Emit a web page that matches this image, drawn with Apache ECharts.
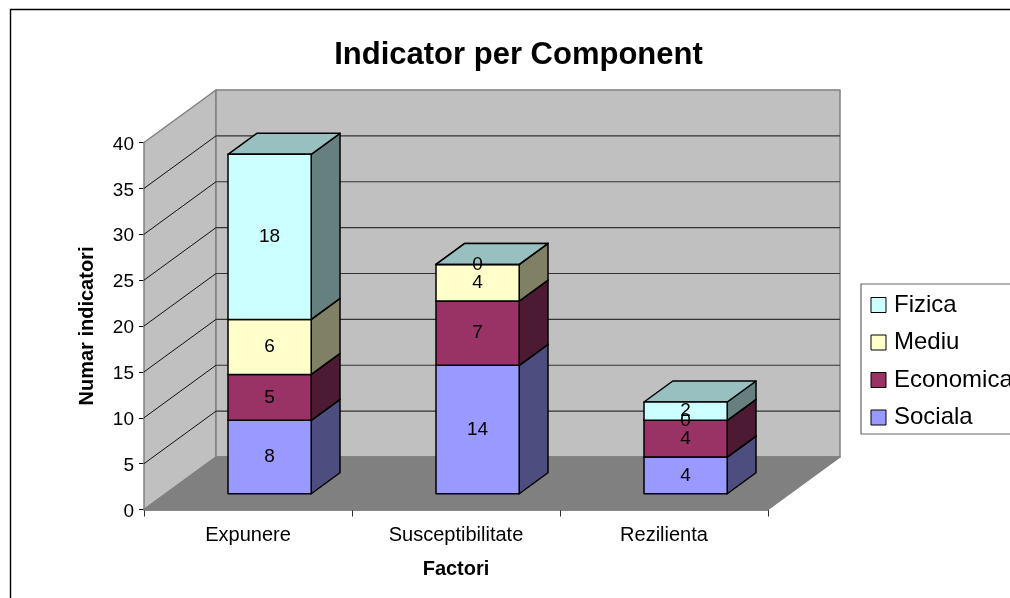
<!DOCTYPE html>
<html>
<head>
<meta charset="utf-8">
<style>html,body{margin:0;padding:0;background:#fff}#chart{width:1010px;height:598px}</style>
<script src="https://cdn.jsdelivr.net/npm/echarts@6/dist/echarts.min.js"></script>
</head>
<body>
<div id="chart"></div>
<script>
// Indicator counts per factor, stacked bottom to top
const categories = ['Expunere', 'Susceptibilitate', 'Rezilienta'];
const sociala = [8, 14, 4];
const economica = [5, 7, 4];
const mediu = [6, 4, 0];
const fizica = [18, 0, 2];
const yTicks = [5, 10, 15, 20, 25, 30, 35];
const legendOrder = ['Fizica', 'Mediu', 'Economica', 'Sociala'];

const FONT = '"Liberation Sans", Arial, sans-serif';
const stacks = [
  { name: 'Sociala', values: sociala, front: '#9999ff', side: '#4d4d80', top: '#7373bf' },
  { name: 'Economica', values: economica, front: '#993366', side: '#4d1a33', top: '#73264d' },
  { name: 'Mediu', values: mediu, front: '#ffffcc', side: '#808066', top: '#bfbf99' },
  { name: 'Fizica', values: fizica, front: '#ccffff', side: '#668080', top: '#99c0c0' }
];

// Oblique projection of the box: full depth of the floor and the slab a bar occupies in it
const DEPTH = [72, -52.5];
const BAR_NEAR = 0.3;
const BAR_FAR = 0.7;
const BAR_WIDTH = 0.4;

const poly = (points, fill, stroke, lineWidth, z2) => ({
  type: 'polygon',
  z2: z2 || 0,
  shape: { points },
  style: { fill, stroke, lineWidth, lineJoin: 'round' }
});
const seg = (a, b, stroke, lineWidth) => ({
  type: 'line',
  shape: { x1: a[0], y1: a[1], x2: b[0], y2: b[1] },
  style: { stroke, lineWidth }
});
const shift = (p, f) => [p[0] + DEPTH[0] * f, p[1] + DEPTH[1] * f];

// Side wall, back wall, floor and their gridlines
function renderBox(params, api) {
  const cs = params.coordSys;
  const x0 = cs.x, x1 = cs.x + cs.width;
  const yAt = v => api.coord([0, v])[1];
  const bl = [x0, yAt(0)], br = [x1, yAt(0)], tl = [x0, yAt(40)];
  const edge = '#808080';
  const children = [
    poly([bl, tl, shift(tl, 1), shift(bl, 1)], '#c0c0c0', edge, 1.5),
    poly([shift(bl, 1), shift(tl, 1), [x1 + DEPTH[0], tl[1] + DEPTH[1]], shift(br, 1)], '#c0c0c0', edge, 1.5),
    poly([bl, br, shift(br, 1), shift(bl, 1)], '#808080', edge, 1.5)
  ];
  yTicks.forEach(v => {
    const a = [x0, yAt(v)], b = shift(a, 1), c = shift([x1, yAt(v)], 1);
    children.push(seg(a, b, '#111', 1));
    children.push(seg(b, c, '#333', 1.2));
  });
  return { type: 'group', children };
}

// One stack segment: front, side and top faces plus its value label
function renderSegment(stackIndex) {
  return function (params, api) {
    const cat = api.value(0), v = api.value(1);
    let base = 0;
    for (let i = 0; i < stackIndex; i++) base += stacks[i].values[cat];
    const s = stacks[stackIndex];
    const band = api.size([1, 0])[0];
    const cx = api.coord([cat, 0])[0];
    const yLow = api.coord([cat, base])[1];
    const yHigh = api.coord([cat, base + v])[1];
    const w = band * BAR_WIDTH;
    const fl = shift([cx - w / 2, yLow], BAR_NEAR);
    const fr = shift([cx + w / 2, yLow], BAR_NEAR);
    const tr = shift([cx + w / 2, yHigh], BAR_NEAR);
    const tlf = shift([cx - w / 2, yHigh], BAR_NEAR);
    const d = BAR_FAR - BAR_NEAR;
    const stroke = '#000', lw = 1.5;
    const layer = stackIndex + 1;
    return {
      type: 'group',
      children: [
        poly([fr, tr, shift(tr, d), shift(fr, d)], s.side, stroke, lw, layer),
        poly([tlf, tr, shift(tr, d), shift(tlf, d)], s.top, stroke, lw, layer),
        poly([fl, fr, tr, tlf], s.front, stroke, lw, layer),
        {
          type: 'text',
          z2: 100,
          style: {
            x: (fl[0] + fr[0]) / 2,
            y: (fl[1] + tlf[1]) / 2,
            text: String(v),
            fill: '#000',
            font: '19px ' + FONT,
            textAlign: 'center',
            textVerticalAlign: 'middle'
          }
        }
      ]
    };
  };
}

const chart = echarts.init(document.getElementById('chart'), null, { renderer: 'canvas' });
chart.setOption({
  animation: false,
  backgroundColor: '#fff',
  title: {
    text: 'Indicator per Component',
    left: 513.5,
    top: 35,
    textAlign: 'center',
    textStyle: { fontFamily: FONT, fontSize: 31, fontWeight: 'bold', color: '#000' }
  },
  graphic: [{
    type: 'rect',
    shape: { x: 10.5, y: 9.5, width: 1200, height: 800 },
    style: { fill: 'none', stroke: '#000', lineWidth: 1.4 },
    silent: true
  }],
  grid: { left: 144, top: 142.5, width: 624, height: 367 },
  legend: {
    left: 861,
    top: 284,
    orient: 'vertical',
    data: legendOrder.map(name => {
      const s = stacks.find(t => t.name === name);
      return { name, icon: 'rect', itemStyle: { color: s.front, borderColor: '#000', borderWidth: 1 } };
    }),
    itemWidth: 15,
    itemHeight: 15,
    itemGap: 13.5,
    padding: [9, 30, 4.5, 9.5],
    backgroundColor: '#fff',
    borderColor: '#666',
    borderWidth: 1.2,
    selectedMode: false,
    textStyle: { fontFamily: FONT, fontSize: 24, color: '#000', padding: [0, 0, 0, 3] }
  },
  xAxis: {
    type: 'category',
    data: categories,
    name: 'Factori',
    nameLocation: 'middle',
    nameGap: 50,
    nameTextStyle: { fontFamily: FONT, fontSize: 20, fontWeight: 'bold', color: '#000' },
    axisLine: { lineStyle: { color: '#666', width: 1.5 } },
    axisTick: { show: true, length: 7, lineStyle: { color: '#333' } },
    axisLabel: { fontFamily: FONT, fontSize: 20, color: '#000', margin: 16 },
    splitLine: { show: false }
  },
  yAxis: {
    type: 'value',
    min: 0,
    max: 40,
    interval: 5,
    name: 'Numar indicatori',
    nameLocation: 'middle',
    nameGap: 47,
    nameTextStyle: { fontFamily: FONT, fontSize: 20, fontWeight: 'bold', color: '#000' },
    axisLine: { show: true, lineStyle: { color: '#000', width: 1 } },
    axisTick: { show: true, length: 5, lineStyle: { color: '#000' } },
    axisLabel: {
      margin: 10,
      formatter: '{t|{value}}',
      rich: { t: { fontFamily: FONT, fontSize: 19, color: '#000', padding: [4, 0, 0, 0] } }
    },
    splitLine: { show: false }
  },
  series: [
    {
      type: 'custom',
      name: 'box',
      silent: true,
      z: 1,
      renderItem: renderBox,
      data: [[0, 0]]
    }
  ].concat(stacks.map((s, i) => ({
    type: 'custom',
    name: s.name,
    silent: true,
    z: 2,
    itemStyle: { color: s.front },
    renderItem: renderSegment(i),
    data: s.values.map((v, c) => [c, v])
  })))
});
</script>
</body>
</html>
